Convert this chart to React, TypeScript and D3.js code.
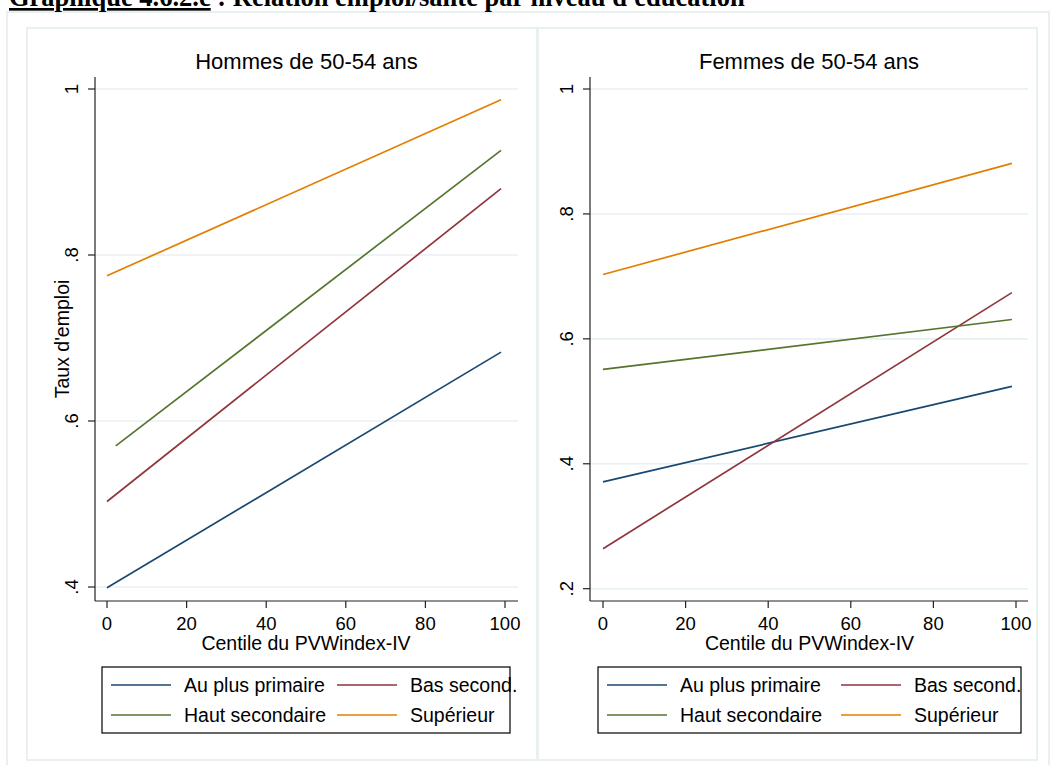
import React from "react";
import * as d3 from "d3";

const chartTitleUnderlined = "Graphique 4.6.2.c";
const chartTitleRest = " : Relation emploi/santé par niveau d'éducation";
const panelTitles = ["Hommes de 50-54 ans", "Femmes de 50-54 ans"];
const xAxisTitle = "Centile du PVWindex-IV";
const yAxisTitle = "Taux d'emploi";
const seriesNames = ["Au plus primaire", "Bas second.", "Haut secondaire", "Supérieur"];
const seriesColors = ["#1a476f", "#90353b", "#55752f", "#e37e00"];
const xTicks = [0, 20, 40, 60, 80, 100];
const hommesYTicks = [0.4, 0.6, 0.8, 1];
const femmesYTicks = [0.2, 0.4, 0.6, 0.8, 1];

// [centile, taux d'emploi]
const hommesPrimaire: [number, number][] = [[0, 0.399], [99, 0.683]];
const hommesBasSecond: [number, number][] = [[0, 0.503], [99, 0.880]];
const hommesHautSecond: [number, number][] = [[2.2, 0.570], [99, 0.926]];
const hommesSuperieur: [number, number][] = [[0, 0.775], [99, 0.987]];

const femmesPrimaire: [number, number][] = [[0, 0.371], [99, 0.524]];
const femmesBasSecond: [number, number][] = [[0, 0.264], [99, 0.674]];
const femmesHautSecond: [number, number][] = [[0, 0.551], [99, 0.631]];
const femmesSuperieur: [number, number][] = [[0, 0.703], [99, 0.881]];

const FONT = "'Liberation Sans', Arial, Helvetica, sans-serif";
const GRID = "#e9f0f2";

const fmt = (v: number) => (v === 1 ? "1" : String(+v.toFixed(2)).replace(/^0\./, "."));

type PanelCfg = {
  title: string;
  box: [number, number, number, number];
  plot: { left: number; right: number; top: number; bottom: number };
  xRange: [number, number];
  yDomain: [number, number];
  yRange: [number, number];
  yTicks: number[];
  series: [number, number][][];
  showYTitle: boolean;
  legend: { x: number; y: number; w: number; h: number; col2: number };
};

const panels: PanelCfg[] = [
  {
    title: panelTitles[0],
    box: [27, 28, 537, 760],
    plot: { left: 95, right: 518, top: 77, bottom: 601 },
    xRange: [107, 505],
    yDomain: [0.4, 1],
    yRange: [587, 89],
    yTicks: hommesYTicks,
    series: [hommesPrimaire, hommesBasSecond, hommesHautSecond, hommesSuperieur],
    showYTitle: true,
    legend: { x: 102, y: 667, w: 408, h: 66, col2: 226 },
  },
  {
    title: panelTitles[1],
    box: [538, 28, 1037, 760],
    plot: { left: 590, right: 1028, top: 77, bottom: 601 },
    xRange: [603, 1016],
    yDomain: [0.2, 1],
    yRange: [588.7, 89],
    yTicks: femmesYTicks,
    series: [femmesPrimaire, femmesBasSecond, femmesHautSecond, femmesSuperieur],
    showYTitle: false,
    legend: { x: 598, y: 667, w: 423, h: 66, col2: 234 },
  },
];

function Panel({ cfg }: { cfg: PanelCfg }) {
  const x = d3.scaleLinear().domain([0, 100]).range(cfg.xRange);
  const y = d3.scaleLinear().domain(cfg.yDomain).range(cfg.yRange);
  const line = d3
    .line<[number, number]>()
    .x((d) => x(d[0]))
    .y((d) => y(d[1]));
  const { plot, box, legend } = cfg;
  const cx = (plot.left + plot.right) / 2;
  const labelX = plot.left - 17;
  return (
    <g>
      <rect
        x={box[0]}
        y={box[1]}
        width={box[2] - box[0]}
        height={box[3] - box[1]}
        fill="#ffffff"
        stroke={GRID}
        strokeWidth={2}
      />
      <text x={cx} y={69} textAnchor="middle" fontFamily={FONT} fontSize={22} fill="#000">
        {cfg.title}
      </text>
      {cfg.yTicks.map((t) => (
        <line key={"g" + t} x1={plot.left} x2={plot.right} y1={y(t)} y2={y(t)} stroke={GRID} strokeWidth={1.6} />
      ))}
      {cfg.series.map((s, i) => (
        <path key={i} d={line(s) || ""} fill="none" stroke={seriesColors[i]} strokeWidth={1.7} />
      ))}
      <line x1={plot.left} x2={plot.left} y1={plot.top} y2={plot.bottom} stroke="#222" strokeWidth={1.2} />
      <line x1={plot.left} x2={plot.right} y1={plot.bottom} y2={plot.bottom} stroke="#222" strokeWidth={1.2} />
      {cfg.yTicks.map((t) => (
        <g key={"y" + t}>
          <line x1={plot.left - 7} x2={plot.left} y1={y(t)} y2={y(t)} stroke="#222" strokeWidth={1.2} />
          <text
            transform={`translate(${labelX},${y(t)}) rotate(-90)`}
            textAnchor="middle"
            fontFamily={FONT}
            fontSize={18.5}
            fill="#000"
          >
            {fmt(t)}
          </text>
        </g>
      ))}
      {xTicks.map((t) => (
        <g key={"x" + t}>
          <line x1={x(t)} x2={x(t)} y1={plot.bottom} y2={plot.bottom + 7} stroke="#222" strokeWidth={1.2} />
          <text x={x(t)} y={630} textAnchor="middle" fontFamily={FONT} fontSize={18.5} fill="#000">
            {t}
          </text>
        </g>
      ))}
      <text x={(cfg.xRange[0] + cfg.xRange[1]) / 2} y={650} textAnchor="middle" fontFamily={FONT} fontSize={19.5} fill="#000">
        {xAxisTitle}
      </text>
      {cfg.showYTitle && (
        <text
          transform={`translate(69,${(plot.top + plot.bottom) / 2}) rotate(-90)`}
          textAnchor="middle"
          fontFamily={FONT}
          fontSize={19.5}
          fill="#000"
        >
          {yAxisTitle}
        </text>
      )}
      <rect x={legend.x} y={legend.y} width={legend.w} height={legend.h} fill="#fff" stroke="#000" strokeWidth={1.2} />
      {seriesNames.map((name, i) => {
        const col = i % 2;
        const row = Math.floor(i / 2);
        const lx = legend.x + 9 + col * legend.col2;
        const ly = legend.y + 18 + row * 30;
        return (
          <g key={name}>
            <line x1={lx} x2={lx + 60} y1={ly} y2={ly} stroke={seriesColors[i]} strokeWidth={1.7} />
            <text x={lx + 73} y={ly + 7} fontFamily={FONT} fontSize={19.5} fill="#000">
              {name}
            </text>
          </g>
        );
      })}
    </g>
  );
}

export default function App() {
  return (
    <svg
      width={1050}
      height={765}
      style={{ position: "absolute", left: 0, top: 0, background: "#fff" }}
    >
      <rect x={0} y={0} width={1050} height={765} fill="#fff" />
      <rect x={7} y={12} width={1042} height={760} fill="#fff" stroke={GRID} strokeWidth={2} />
      {panels.map((p, i) => (
        <Panel key={i} cfg={p} />
      ))}
      <text x={9} y={6} fontFamily="'Liberation Serif', 'Times New Roman', serif" fontWeight="bold" fontSize={26.5} fill="#000">
        <tspan textDecoration="underline">{chartTitleUnderlined}</tspan>
        <tspan>{chartTitleRest}</tspan>
      </text>
    </svg>
  );
}
